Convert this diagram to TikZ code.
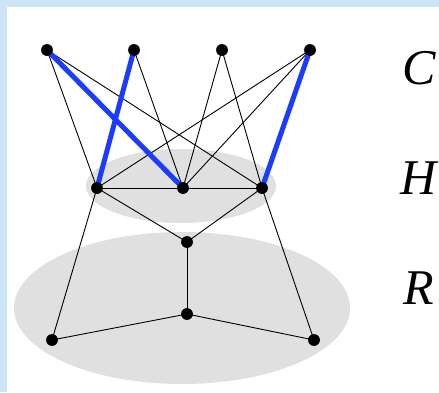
\documentclass[tikz,border=0pt]{standalone}
\usepackage{fontspec}
\setmainfont{Liberation Serif}
\definecolor{frame}{HTML}{CCE6F7}
\definecolor{blob}{HTML}{E0E0E0}
\definecolor{hblue}{HTML}{1A3CFF}
\begin{document}
\begin{tikzpicture}[x=1pt,y=-1pt,
  dot/.style={circle,fill=black,inner sep=0pt,minimum size=11.5pt},
  thin edge/.style={draw=black,line width=0.9pt},
  thick edge/.style={draw=hblue,line width=5pt},
  lab/.style={font=\fontsize{50}{50}\selectfont\itshape,inner sep=0pt}]
\useasboundingbox (0,0) rectangle (439,392);
\fill[frame] (0,0) rectangle (439,392);
\fill[white] (7,7) rectangle (439,392);
\fill[blob] (181,186) ellipse [x radius=95, y radius=37];
\fill[blob] (182,308) ellipse [x radius=168, y radius=76];
% nodes
\node[dot] (c1) at (47,50) {};
\node[dot] (c2) at (134,50) {};
\node[dot] (c3) at (222,50) {};
\node[dot] (c4) at (310,50) {};
\node[dot] (h1) at (97,188) {};
\node[dot] (h2) at (183,188) {};
\node[dot] (h3) at (262,188) {};
\node[dot] (r1) at (187,242) {};
\node[dot] (r2) at (187,314) {};
\node[dot] (r3) at (52,340) {};
\node[dot] (r4) at (314,340) {};
% edges
\path[thin edge] (c1.center) -- (h1.center);
\path[thin edge] (c1.center) -- (h3.center);
\path[thin edge] (c2.center) -- (h2.center);
\path[thin edge] (c3.center) -- (h2.center);
\path[thin edge] (c3.center) -- (h3.center);
\path[thin edge] (c4.center) -- (h1.center);
\path[thin edge] (c4.center) -- (h2.center);
\path[thin edge] (h1.center) -- (h2.center);
\path[thin edge] (h2.center) -- (h3.center);
\path[thin edge] (h1.center) -- (r1.center);
\path[thin edge] (h3.center) -- (r1.center);
\path[thin edge] (r1.center) -- (r2.center);
\path[thin edge] (r2.center) -- (r3.center);
\path[thin edge] (r2.center) -- (r4.center);
\path[thin edge] (h1.center) -- (r3.center);
\path[thin edge] (h3.center) -- (r4.center);
\path[thick edge] (c1.center) -- (h2.center);
\path[thick edge] (c2.center) -- (h1.center);
\path[thick edge] (c4.center) -- (h3.center);
% redraw dots on top
\foreach \n in {c1,c2,c3,c4,h1,h2,h3,r1,r2,r3,r4}
  \fill (\n.center) circle [radius=5.75];
\node[lab] (lc) at (419,68) {C};
\node[lab] (lh) at (419,178) {H};
\node[lab] (lr) at (419,288) {R};
\end{tikzpicture}
\end{document}
